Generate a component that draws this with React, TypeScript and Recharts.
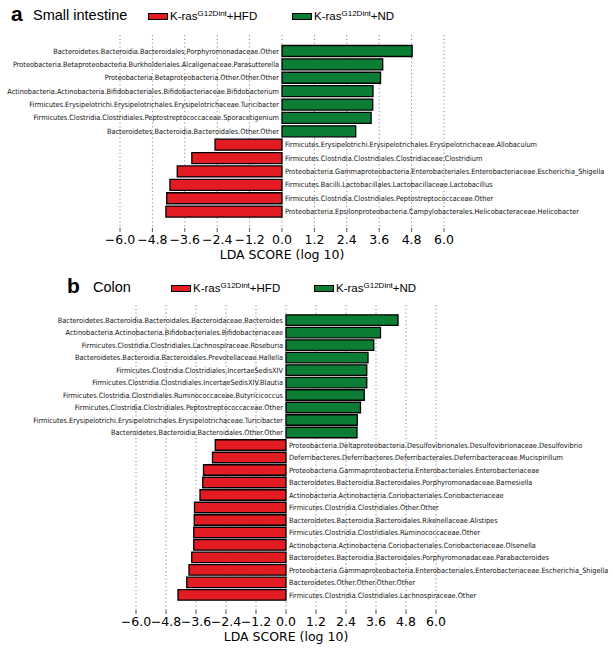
import { BarChart, Bar, Cell, XAxis, YAxis, CartesianGrid, LabelList } from "recharts";

// LEfSe LDA scores (positive = ND, negative = HFD)
const SI_NAMES = [
  "Bacteroidetes.Bacteroidia.Bacteroidales.Porphyromonadaceae.Other",
  "Proteobacteria.Betaproteobacteria.Burkholderiales.Alcaligenaceae.Parasutterella",
  "Proteobacteria.Betaproteobacteria.Other.Other.Other",
  "Actinobacteria.Actinobacteria.Bifidobacteriales.Bifidobacteriaceae.Bifidobacterium",
  "Firmicutes.Erysipelotrichi.Erysipelotrichales.Erysipelotrichaceae.Turicibacter",
  "Firmicutes.Clostridia.Clostridiales.Peptostreptococcaceae.Sporacetigenium",
  "Bacteroidetes.Bacteroidia.Bacteroidales.Other.Other",
  "Firmicutes.Erysipelotrichi.Erysipelotrichales.Erysipelotrichaceae.Allobaculum",
  "Firmicutes.Clostridia.Clostridiales.Clostridiaceae.Clostridium",
  "Proteobacteria.Gammaproteobacteria.Enterobacteriales.Enterobacteriaceae.Escherichia_Shigella",
  "Firmicutes.Bacilli.Lactobacillales.Lactobacillaceae.Lactobacillus",
  "Firmicutes.Clostridia.Clostridiales.Peptostreptococcaceae.Other",
  "Proteobacteria.Epsilonproteobacteria.Campylobacterales.Helicobacteraceae.Helicobacter",
];
const SI_LDA = [4.82, 3.73, 3.65, 3.37, 3.36, 3.3, 2.73, -2.48, -3.34, -3.88, -4.15, -4.27, -4.3];

const COLON_NAMES = [
  "Bacteroidetes.Bacteroidia.Bacteroidales.Bacteroidaceae.Bacteroides",
  "Actinobacteria.Actinobacteria.Bifidobacteriales.Bifidobacteriaceae",
  "Firmicutes.Clostridia.Clostridiales.Lachnospiraceae.Roseburia",
  "Bacteroidetes.Bacteroidia.Bacteroidales.Prevotellaceae.Hallella",
  "Firmicutes.Clostridia.Clostridiales.IncertaeSedisXIV",
  "Firmicutes.Clostridia.Clostridiales.IncertaeSedisXIV.Blautia",
  "Firmicutes.Clostridia.Clostridiales.Ruminococcaceae.Butyricicoccus",
  "Firmicutes.Clostridia.Clostridiales.Peptostreptococcaceae.Other",
  "Firmicutes.Erysipelotrichi.Erysipelotrichales.Erysipelotrichaceae.Turicibacter",
  "Bacteroidetes.Bacteroidia.Bacteroidales.Other.Other",
  "Proteobacteria.Deltaproteobacteria.Desulfovibrionales.Desulfovibrionaceae.Desulfovibrio",
  "Deferribacteres.Deferribacteres.Deferribacterales.Deferribacteraceae.Mucispirillum",
  "Proteobacteria.Gammaproteobacteria.Enterobacteriales.Enterobacteriaceae",
  "Bacteroidetes.Bacteroidia.Bacteroidales.Porphyromonadaceae.Barnesiella",
  "Actinobacteria.Actinobacteria.Coriobacteriales.Coriobacteriaceae",
  "Firmicutes.Clostridia.Clostridiales.Other.Other",
  "Bacteroidetes.Bacteroidia.Bacteroidales.Rikenellaceae.Alistipes",
  "Firmicutes.Clostridia.Clostridiales.Ruminococcaceae.Other",
  "Actinobacteria.Actinobacteria.Coriobacteriales.Coriobacteriaceae.Olsenella",
  "Bacteroidetes.Bacteroidia.Bacteroidales.Porphyromonadaceae.Parabacteroides",
  "Proteobacteria.Gammaproteobacteria.Enterobacteriales.Enterobacteriaceae.Escherichia_Shigella",
  "Bacteroidetes.Other.Other.Other.Other",
  "Firmicutes.Clostridia.Clostridiales.Lachnospiraceae.Other",
];
const COLON_LDA = [
  4.48, 3.78, 3.51, 3.28, 3.23, 3.23, 3.13, 2.98, 2.85, 2.84,
  -2.83, -2.94, -3.3, -3.33, -3.44, -3.66, -3.67, -3.69, -3.69, -3.77, -3.88, -3.97, -4.32,
];

const X_TICKS = [-6, -4.8, -3.6, -2.4, -1.2, 0, 1.2, 2.4, 3.6, 4.8, 6];
const GROUPS = ["HFD", "ND"];

const RED = "#e31b23";
const GREEN = "#0c7d35";
const SANS = "'Liberation Sans', Arial, sans-serif";
const MPL = "'DejaVu Sans', sans-serif";
const NAME_FONT = "'DejaVu Sans Condensed', 'DejaVu Sans', sans-serif";

const fmtTick = (v: number) => (v < 0 ? "\u2212" : "") + Math.abs(v).toFixed(1);

// taxon name next to the zero line, on the opposite side of the bar
function BarName(props: any) {
  const s = String(props.value);
  const neg = s[0] === "-";
  const x0 = Number(props.x);
  const w = Number(props.width);
  const zero = neg ? Math.max(x0, x0 + w) : Math.min(x0, x0 + w);
  return (
    <text
      x={neg ? zero + 3 : zero - 3}
      y={Number(props.y) + Number(props.height) / 2}
      dy="0.35em"
      textAnchor={neg ? "start" : "end"}
      fontSize={7.3}
      fontFamily={NAME_FONT}
      fill="#111"
    >
      {s.slice(1)}
    </text>
  );
}

function Header({ letter, title, letterX, titleX, y, legendX }: any) {
  const swatch = (color: string) => (
    <span
      style={{
        display: "inline-block",
        width: 18,
        height: 5,
        background: color,
        border: "1px solid #000",
        marginRight: 2,
        verticalAlign: "middle",
      }}
    />
  );
  return (
    <>
      <div style={{ position: "absolute", left: letterX, top: y - 13, fontFamily: SANS, fontWeight: "bold", fontSize: 21, lineHeight: "24px" }}>
        {letter}
      </div>
      <div style={{ position: "absolute", left: titleX, top: y - 9, fontFamily: SANS, fontSize: 14.5, lineHeight: "18px" }}>
        {title}
      </div>
      {GROUPS.map((g, i) => (
        <div
          key={g}
          style={{
            position: "absolute",
            left: legendX[i],
            top: y - 10,
            fontFamily: SANS,
            fontSize: 11.5,
            lineHeight: "18px",
            whiteSpace: "nowrap",
          }}
        >
          {swatch(i === 0 ? RED : GREEN)}
          K-ras<sup style={{ fontSize: 8, verticalAlign: "4px" }}>G12Dint</sup>+{g}
        </div>
      ))}
    </>
  );
}

function Panel({ names, values, top, height, left, right, marginTop, marginBottom, pad, barSize }: any) {
  const data = names.map((name: string, i: number) => ({ name, lda: values[i] }));
  return (
    <div style={{ position: "absolute", left: 0, top }}>
      <BarChart
        width={613}
        height={height}
        data={data}
        layout="vertical"
        margin={{ top: marginTop, right, left, bottom: marginBottom }}
      >
        <CartesianGrid horizontal={false} stroke="#8a8a8a" strokeDasharray="1.2 2.6" />
        <XAxis
          xAxisId="top"
          orientation="top"
          type="number"
          domain={[-6, 6]}
          ticks={X_TICKS}
          tick={false}
          height={0}
          axisLine={false}
          tickLine={{ stroke: "#555" }}
          tickSize={4}
        />
        <XAxis
          type="number"
          domain={[-6, 6]}
          ticks={X_TICKS}
          interval={0}
          tickFormatter={fmtTick}
          axisLine={false}
          tickLine={{ stroke: "#555" }}
          tickSize={4}
          tickMargin={3}
          height={30}
          tick={{ fontSize: 12.5, fontFamily: MPL, fill: "#000" }}
          label={{
            value: "LDA SCORE (log 10)",
            position: "bottom",
            offset: -8,
            style: { fontSize: 12.5, fontFamily: MPL, fill: "#000" },
          }}
        />
        <YAxis type="category" dataKey="name" hide padding={{ top: pad, bottom: pad }} />
        <Bar dataKey="lda" barSize={barSize} stroke="#000" strokeWidth={1.3} isAnimationActive={false}>
          {data.map((d: any) => (
            <Cell key={d.name} fill={d.lda < 0 ? RED : GREEN} />
          ))}
          <LabelList
            dataKey={(d: any) => (d.lda < 0 ? "-" : "+") + d.name}
            content={BarName}
          />
        </Bar>
      </BarChart>
    </div>
  );
}

export default function App() {
  return (
    <div style={{ position: "absolute", left: 0, top: 0, width: 613, height: 648, background: "#fff", overflow: "hidden" }}>
      <Header letter="a" title="Small intestine" letterX={11} titleX={33} y={15} legendX={[148, 292]} />
      <Panel
        names={SI_NAMES}
        values={SI_LDA}
        top={0}
        height={270}
        left={120}
        right={169}
        marginTop={35}
        marginBottom={12}
        pad={9.5}
        barSize={11}
      />
      <Header letter="b" title="Colon" letterX={67} titleX={93} y={287} legendX={[171, 314]} />
      <Panel
        names={COLON_NAMES}
        values={COLON_LDA}
        top={270}
        height={378}
        left={136}
        right={177}
        marginTop={35}
        marginBottom={8}
        pad={8.8}
        barSize={10.5}
      />
    </div>
  );
}
